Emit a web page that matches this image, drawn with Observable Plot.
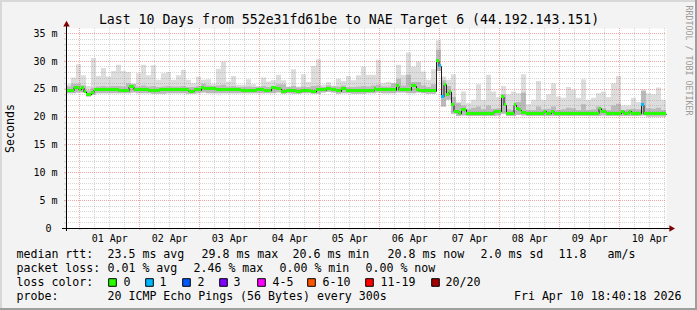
<!DOCTYPE html>
<html><head><meta charset="utf-8">
<script src="https://cdn.jsdelivr.net/npm/d3@7"></script>
<script src="https://cdn.jsdelivr.net/npm/@observablehq/plot@0.6"></script>
<style>body{margin:0;background:#fff} svg{display:block}</style>
</head><body><div id="chart"></div>
<script>
// ---------- data ----------
const titleText = "Last 10 Days from 552e31fd61be to NAE Target 6 (44.192.143.151)";
const dayDates = ["2026-04-01","2026-04-02","2026-04-03","2026-04-04","2026-04-05","2026-04-06","2026-04-07","2026-04-08","2026-04-09","2026-04-10"];
const dayLabels = ["01 Apr","02 Apr","03 Apr","04 Apr","05 Apr","06 Apr","07 Apr","08 Apr","09 Apr","10 Apr"];
const yTicks = [0, 5, 10, 15, 20, 25, 30, 35];
const yTickLabels = ["0", "5 m", "10 m", "15 m", "20 m", "25 m", "30 m", "35 m"];

// smoke (ms), 2-hour bins from Mar 31 18:40
const smokeMax = [
 25.8,27.0,29.4,27.4,25.5,30.5,27.3,28.7,27.2,28.2,
 29.3,28.2,28.0,25.8,27.8,29.3,27.4,29.2,26.6,27.8,
 28.0,26.6,27.4,28.4,26.6,26.0,27.2,26.6,26.7,25.9,
 28.6,29.9,26.3,27.3,25.7,25.7,26.7,25.8,25.1,27.0,
 26.3,26.5,27.5,26.5,25.4,28.5,25.4,27.6,26.2,29.1,
 30.3,25.7,26.2,25.6,26.8,26.4,27.3,26.5,27.4,29.0,
 27.5,27.5,30.2,26.0,26.2,25.8,29.3,27.5,31.5,29.0,
 29.9,28.1,26.6,28.5,33.7,27.2,26.6,27.6,22.6,24.5,
 22.4,23.0,25.8,23.0,27.5,24.5,23.5,25.5,24.0,24.5,
 24.2,27.6,22.2,23.0,26.4,23.0,24.0,26.0,23.6,23.4,
 25.3,24.8,23.4,26.7,23.0,23.4,24.2,24.5,23.5,26.0,
 27.3,22.0,22.0,23.4,22.6,24.9,24.2,24.0,25.2,23.0];
const smokeHi = [
 25.4,25.9,25.9,25.6,24.7,25.2,25.4,25.5,25.4,25.5,
 25.5,25.4,26.0,25.9,25.4,25.6,25.4,25.5,25.3,25.4,
 25.5,25.4,25.4,25.5,25.3,25.3,25.5,25.9,25.6,25.5,
 25.6,25.7,25.4,25.5,25.3,25.3,25.4,25.3,25.4,25.5,
 25.3,25.4,25.8,25.8,25.3,25.5,25.2,25.4,25.3,25.5,
 25.6,25.3,25.6,25.4,25.4,25.6,25.3,25.3,25.4,25.5,
 25.4,25.6,25.7,25.4,25.4,26.0,26.8,25.6,27.5,26.2,
 26.2,25.6,25.3,25.8,32.0,26.5,25.5,23.5,22.4,22.0,
 21.3,21.6,21.8,21.3,22.0,21.4,21.5,24.0,21.3,21.2,
 22.6,24.3,21.2,21.2,21.8,21.3,21.4,21.8,21.2,21.3,
 21.6,21.5,21.2,22.2,21.2,21.3,21.8,21.5,21.2,22.0,
 22.3,21.2,21.3,21.4,21.3,24.6,21.5,21.4,21.6,21.2];
const smokeMin = [
 24.2,24.2,24.3,24.3,23.6,23.9,24.2,24.2,24.2,24.2,
 24.2,24.2,24.2,24.3,24.2,24.2,24.2,24.1,24.1,24.1,
 24.2,24.2,24.2,24.2,24.1,24.1,24.2,24.3,24.2,24.2,
 24.2,24.2,24.2,24.2,24.2,24.2,24.2,24.2,24.2,24.2,
 24.2,24.2,24.3,24.1,24.2,24.1,24.1,24.2,24.2,24.1,
 24.1,24.3,24.4,24.3,24.1,24.2,24.2,24.1,24.1,24.1,
 24.2,24.2,24.3,24.2,24.2,24.2,24.3,24.3,24.2,24.2,
 24.3,24.2,24.1,24.1,28.2,21.8,23.0,20.5,20.1,20.2,
 20.1,20.1,20.1,20.1,20.1,20.1,20.2,20.5,20.1,20.1,
 20.3,20.2,20.1,20.1,20.1,20.1,20.1,20.1,20.1,20.1,
 20.1,20.1,20.1,20.1,20.1,20.1,20.1,20.2,20.1,20.1,
 20.1,20.1,20.1,20.1,20.1,20.2,20.0,20.0,20.0,20.0];

// median rtt (ms): hour (from start) where each value begins
const medianHour = [0,3,5,6,7,8,10,11,21,25,27,33,37,49,51,54,55,60,70,76,79,82,84,86,88,92,94,98,100,104,106,108,110,112,123,124,132,133,138,140,141,148,149,150,151,152,153,154,155,157,158,160,171,174,175,176,179,180,181,182,184,191,192,194,195,213,214,216,222,223,225,226,230,231];
const medianMs = [24.7,25.3,24.9,25.2,24.5,24.0,24.4,24.8,24.6,25.4,24.9,24.6,24.8,24.5,24.8,25.3,25.0,24.8,24.7,24.9,24.7,25.2,25.0,24.5,24.7,24.5,24.7,24.5,24.8,25.0,24.8,24.6,25.0,24.6,25.0,24.8,25.5,24.8,25.5,24.9,24.6,30.0,29.1,23.6,25.8,24.0,24.5,22.1,21.0,20.6,21.3,20.6,21.0,23.6,22.1,20.6,22.1,21.4,21.2,20.8,20.6,21.0,20.6,21.0,20.6,21.5,20.9,20.6,21.0,20.6,21.0,20.6,22.1,20.5];
// hours with packet loss (pings lost out of 20)
const lossHours = [149, 150, 230];
const lossCounts = [1, 1, 1];

const lossLabels = ["0","1","2","3","4-5","6-10","11-19","20/20"];
const lossUpper = [0, 1, 2, 3, 5, 10, 19, 20];
const lossColors = ["#26ff00","#00b8ff","#0059ff","#7e00ff","#ff00ff","#ff5500","#ff0000","#a10000"];

const rttStats = ["23.5 ms avg","29.8 ms max","20.6 ms min","20.8 ms now","2.0 ms sd","11.8","am/s"];
const lossStats = ["0.01 % avg","2.46 % max","0.00 % min","0.00 % now"];
const probeText = "20 ICMP Echo Pings (56 Bytes) every 300s";
const stampText = "Fri Apr 10 18:40:18 2026";

// ---------- build tables ----------
const HOUR = 3600e3;
const startTime = Date.UTC(2026, 2, 31, 18, 40);
const totalHours = 240;
const endTime = startTime + totalHours * HOUR;
const binHours = 2;

const smokeTable = smokeMax.map((v, i) => ({t: new Date(startTime + i * binHours * HOUR), max: v, hi: smokeHi[i], min: smokeMin[i]}));
smokeTable.push({...smokeTable[smokeTable.length - 1], t: new Date(endTime)});

const lossMap = new Map(lossHours.map((h, i) => [h, lossCounts[i]]));
const colorForLoss = n => lossColors[lossUpper.findIndex(u => n <= u)];
const medianSegs = medianHour.map((h, i) => ({
  t0: new Date(startTime + h * HOUR),
  t1: new Date(startTime + (i + 1 < medianHour.length ? medianHour[i + 1] : totalHours) * HOUR),
  ms: medianMs[i],
  loss: lossMap.get(h) ?? 0
}));
const medianLine = medianSegs.map(d => ({t: d.t0, ms: d.ms})).concat([{t: new Date(endTime), ms: medianMs[medianMs.length - 1]}]);

const midnights = dayDates.map(d => new Date(d + "T00:00:00Z"));
const noons = dayDates.map(d => new Date(d + "T12:00:00Z"));
const sixHours = d3.utcHour.every(6).range(new Date(startTime), new Date(endTime)).filter(d => d.getUTCHours() !== 0);
const yMinor = d3.range(1, 36).filter(v => v % 5 !== 0);
const yMajor = yTicks.filter(v => v > 0);

// ---------- layout ----------
const W = 697, Hh = 310, ML = 66, MR = 31, MT = 28, MB = 82;
const FONT = "DejaVu Sans Mono";
const minorCol = "rgba(128,128,128,0.32)";
const majorCol = "rgba(224,80,80,0.5)";

const txt = (s, x, y, o = {}) => Plot.text([s], {text: d => d, frameAnchor: "top-left", dx: x - ML, dy: y - MT,
  textAnchor: "start", lineAnchor: "middle", fontSize: 11.6, fill: "black", ...o});

const rttX = [107, 201, 292, 387, 480, 558, 607];
const lossX = [107, 193, 279, 365];
const swX = [112, 149, 186, 223, 261, 311, 369, 435];
const swTextX = [123, 159, 197, 233, 272, 322, 380, 445];

const marks = [
  Plot.frame({fill: "white", stroke: null}),
  Plot.areaY(smokeTable, {x: "t", y1: "min", y2: "max", curve: "step-after", fill: "#dddddd"}),
  Plot.areaY(smokeTable, {x: "t", y1: "min", y2: "hi", curve: "step-after", fill: "#bababa"}),
  // grid
  Plot.ruleY(yMinor, {stroke: minorCol, strokeDasharray: "1,1", shapeRendering: "crispEdges"}),
  Plot.ruleX(sixHours, {stroke: minorCol, strokeDasharray: "1,1", shapeRendering: "crispEdges"}),
  Plot.ruleY(yMajor, {stroke: majorCol, strokeDasharray: "1,1", shapeRendering: "crispEdges"}),
  Plot.ruleX(midnights, {stroke: majorCol, strokeDasharray: "1,1", shapeRendering: "crispEdges"}),
  // median
  Plot.line(medianLine, {x: "t", y: "ms", curve: "step-after", stroke: "#202020", strokeWidth: 1}),
  Plot.rect(medianSegs, {x1: "t0", x2: "t1", y1: d => d.ms - 0.27, y2: d => d.ms + 0.27, fill: d => colorForLoss(d.loss), shapeRendering: "crispEdges"}),
  // axis ticks
  Plot.axisY(yMinor, {tickSize: 2, tickFormat: () => "", label: null, stroke: minorCol}),
  Plot.axisY(yMajor, {tickSize: 2, tickFormat: () => "", label: null, stroke: majorCol}),
  Plot.axisX(sixHours, {tickSize: 2, tickFormat: () => "", label: null, stroke: minorCol}),
  Plot.axisX(midnights, {tickSize: 2, tickFormat: () => "", label: null, stroke: majorCol}),
  Plot.axisY(yTicks, {tickSize: 0, tickPadding: 9, label: null, fontSize: 10, fill: "black",
    tickFormat: d => { const s = yTickLabels[yTicks.indexOf(d)]; return s.includes(" ") ? s : s + "\u00a0"; }}),
  Plot.axisX(noons, {tickSize: 0, tickPadding: 6, label: null, fontSize: 10, fill: "black",
    tickFormat: d => dayLabels[noons.findIndex(n => +n === +d)]}),
  // axis lines + arrows
  Plot.ruleY([0], {x1: () => new Date(startTime - 1.6 * HOUR), x2: () => new Date(endTime + 1.6 * HOUR), stroke: "black", shapeRendering: "crispEdges"}),
  Plot.ruleX([new Date(startTime)], {y1: -0.6, y2: 36.5, stroke: "black", shapeRendering: "crispEdges"}),
  Plot.dot([0], {x: () => new Date(endTime + 1.9 * HOUR), y: 0, symbol: "triangle", rotate: 90, r: 2.4, fill: "#7f0000", stroke: null}),
  Plot.dot([0], {x: () => new Date(startTime), y: 36.6, symbol: "triangle", r: 2.4, fill: "#7f0000", stroke: null}),
  // texts
  txt(titleText, 348.5, 19, {textAnchor: "middle", fontSize: 13.2}),
  txt("Seconds", 9.5, 128, {textAnchor: "middle", rotate: -90}),
  txt("RRDTOOL / TOBI OETIKER", 688, 5, {rotate: 90, fontSize: 8.3, fill: "#9a9a9a"}),
  txt("median rtt:", 16, 254),
  ...rttStats.map((s, i) => txt(s, rttX[i], 254)),
  txt("packet loss:", 16, 268),
  ...lossStats.map((s, i) => txt(s, lossX[i], 268)),
  txt("loss color:", 16, 282),
  ...lossLabels.map((s, i) => txt(s, swTextX[i], 282)),
  ...lossColors.map((c, i) => Plot.dot([0], {frameAnchor: "top-left", dx: swX[i] - ML, dy: 282 - MT, symbol: "square", r: 4.3, fill: c, stroke: "black", strokeWidth: 1})),
  txt("probe:", 16, 296),
  txt(probeText, 107, 296),
  txt(stampText, 681, 296, {textAnchor: "end"})
];

const chart = Plot.plot({
  width: W, height: Hh,
  marginLeft: ML, marginRight: MR, marginTop: MT, marginBottom: MB,
  x: {type: "utc", domain: [new Date(startTime), new Date(endTime)]},
  y: {domain: [0, 35.9]},
  style: {fontFamily: FONT, background: "#f3f3f3", color: "black", overflow: "visible"},
  marks
});
chart.style.boxShadow = "inset -2px -2px 0 #9e9e9e, inset 2px 2px 0 #d8d8d8";
document.getElementById("chart").appendChild(chart);
</script></body></html>
